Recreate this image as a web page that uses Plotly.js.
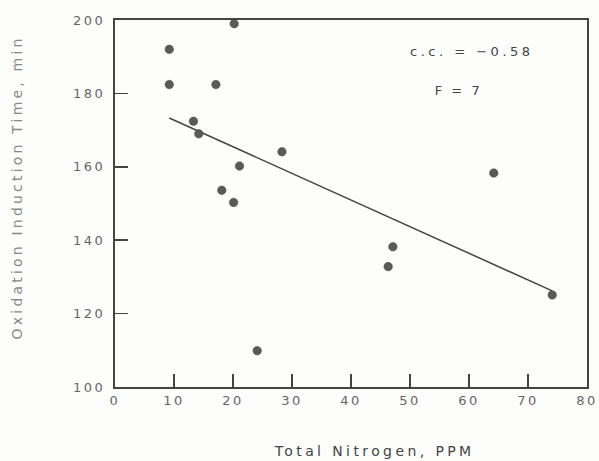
<!DOCTYPE html>
<html>
<head>
<meta charset="utf-8">
<script src="https://cdn.plot.ly/plotly-3.0.1.min.js"></script>
<style>
html,body{margin:0;padding:0;background:#fdfdfb;}
#chart{width:599px;height:461px;}
#chart .xtick text, #chart .ytick text{letter-spacing:2.5px;}
#chart .annotation[data-index="0"] text{letter-spacing:3.5px;}
#chart .annotation[data-index="1"] text{letter-spacing:2.5px;}
#chart .annotation[data-index="2"] text{letter-spacing:3.4px;}
#chart .annotation[data-index="3"] text{letter-spacing:3.2px;}
</style>
</head>
<body>
<div id="chart"></div>
<script>
const nitrogen = [20.2, 9.2, 9.2, 17.1, 13.3, 14.2, 28.3, 21.1, 18.1, 20.1, 24.1, 64.2, 47.1, 46.3, 74.1];
const inductionTime = [199, 192, 182.4, 182.4, 172.4, 169, 164.1, 160.2, 153.6, 150.3, 109.9, 158.3, 138.2, 132.8, 125.1];
const fitX = [9.2, 74.1];
const fitY = [173.3, 126.2];
const xTicks = [0, 10, 20, 30, 40, 50, 60, 70, 80];
const yTicks = [100, 120, 140, 160, 180, 200];
const annotationTexts = ["c.c. = −0.58", "F = 7"];
const xTitle = "Total Nitrogen, PPM";
const yTitle = "Oxidation Induction Time, min";

const fam = "DejaVu Sans, sans-serif";
const tickFont = {family: fam, size: 13, color: "#666"};
const data = [
  {x: fitX, y: fitY, mode: "lines", line: {color: "#454545", width: 1.5}, hoverinfo: "skip"},
  {x: nitrogen, y: inductionTime, mode: "markers", marker: {color: "#5a5a5a", size: 8.5, line: {color: "#444", width: 0.5}}}
];
const layout = {
  width: 599, height: 461,
  margin: {l: 115, r: 12, t: 20, b: 74},
  paper_bgcolor: "#fdfdfb", plot_bgcolor: "#fdfdfb",
  showlegend: false,
  font: tickFont,
  xaxis: {
    range: [0, 80], tickvals: xTicks, ticks: "inside", ticklen: 13, tickwidth: 1.5, tickcolor: "#444",
    showgrid: false, zeroline: false, showline: true, linecolor: "#444", linewidth: 2, mirror: true,
    tickfont: tickFont
  },
  yaxis: {
    range: [100, 200], tickvals: yTicks, ticks: "inside", ticklen: 13, tickwidth: 1.5, tickcolor: "#444",
    showgrid: false, zeroline: false, showline: true, linecolor: "#444", linewidth: 2, mirror: true,
    tickfont: tickFont, ticklabelstandoff: 5
  },
  annotations: [
    {x: 472, y: 51, text: annotationTexts[0], font: {family: fam, size: 13, color: "#444"}},
    {x: 458, y: 90, text: annotationTexts[1], font: {family: fam, size: 13, color: "#444"}},
    {x: 374, y: 451, text: xTitle, font: {family: fam, size: 14, color: "#444"}},
    {x: 17, y: 188, text: yTitle, textangle: -90, font: {family: fam, size: 14, color: "#888"}}
  ]
};
// convert pixel positions (from top-left) into paper fractions
const pw = 599 - 115 - 12, ph = 461 - 20 - 74;
layout.annotations.forEach(a => {
  a.xref = "paper"; a.yref = "paper"; a.showarrow = false;
  a.xanchor = "center"; a.yanchor = "middle";
  a.x = (a.x - 115) / pw; a.y = (461 - a.y - 74) / ph;
});
Plotly.newPlot("chart", data, layout, {displayModeBar: false, staticPlot: true});
</script>
</body>
</html>
